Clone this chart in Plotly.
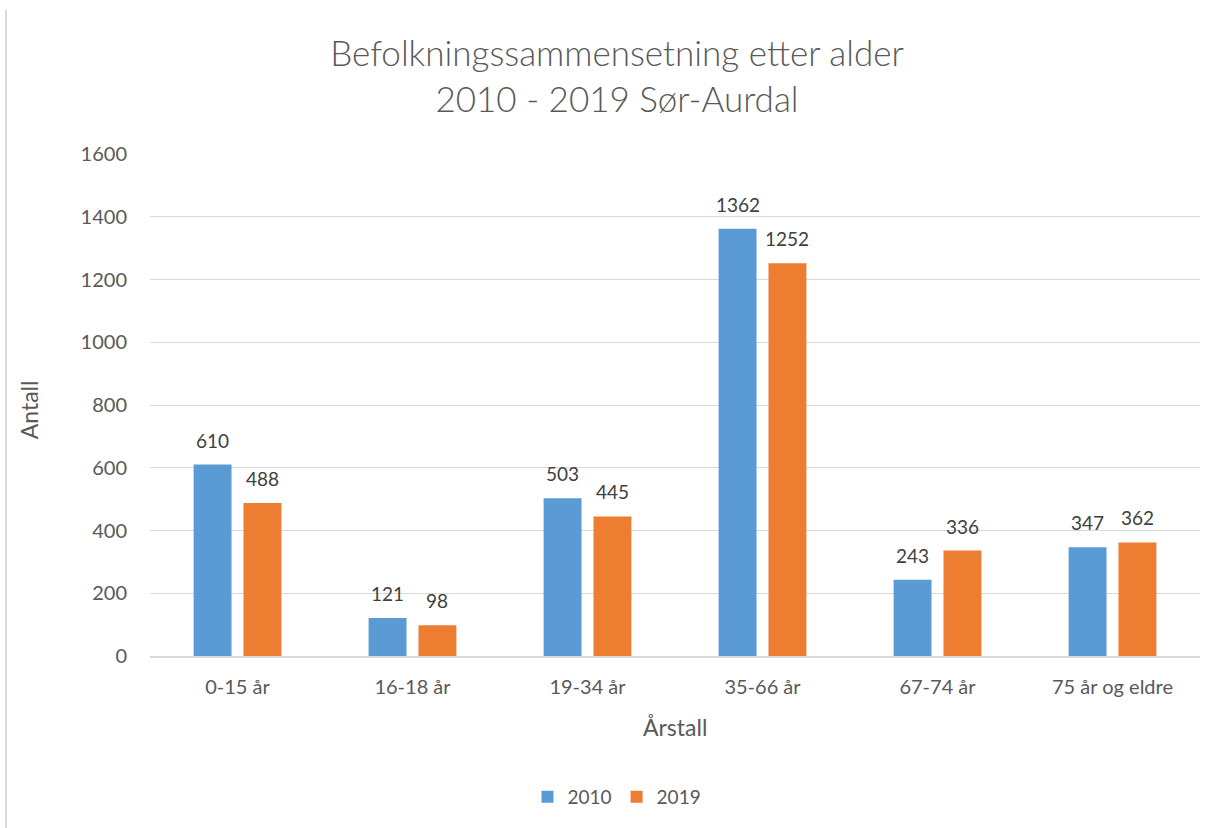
import plotly.graph_objects as go

# Age groups and population counts per year
categories = ["0-15 år", "16-18 år", "19-34 år", "35-66 år", "67-74 år", "75 år og eldre"]
values_2010 = [610, 121, 503, 1362, 243, 347]
values_2019 = [488, 98, 445, 1252, 336, 362]
series_names = ["2010", "2019"]
y_ticks = [0, 200, 400, 600, 800, 1000, 1200, 1400, 1600]

blue = "#5B9BD5"
orange = "#ED7D31"
font_family = "Lato, 'Open Sans', sans-serif"

# Bar layout within each category slot
bargap = 0.43
bar_offset = (1 - bargap) / 4  # centre of each bar relative to category centre

fig = go.Figure()
fig.add_trace(go.Bar(x=categories, y=values_2010, name=series_names[0],
                     marker=dict(color=blue, line=dict(width=0))))
fig.add_trace(go.Bar(x=categories, y=values_2019, name=series_names[1],
                     marker=dict(color=orange, line=dict(width=0))))

# Value labels above each bar
annotations = []
for vals, sign in [(values_2010, -1), (values_2019, 1)]:
    for j, v in enumerate(vals):
        annotations.append(dict(
            x=j + sign * bar_offset, y=v, xref="x", yref="y",
            text=str(v), showarrow=False, yanchor="bottom", yshift=11,
            font=dict(size=19, color="#404040", family=font_family)))

# Axis titles
annotations.append(dict(text="Årstall", x=0.5, y=-0.141, xref="paper", yref="paper",
                        showarrow=False, yanchor="middle",
                        font=dict(size=23, color="#595959", family=font_family)))
annotations.append(dict(text="Antall", x=-0.115, y=0.49, xref="paper", yref="paper",
                        showarrow=False, textangle=-90, xanchor="center", yanchor="middle",
                        font=dict(size=23, color="#595959", family=font_family)))

fig.update_layout(
    width=1219, height=828,
    margin=dict(l=150, r=19, t=154, b=172),
    paper_bgcolor="white", plot_bgcolor="white",
    barmode="group", bargap=bargap, bargroupgap=0.24,
    title=dict(text="Befolkningssammensetning etter alder<br>2010 - 2019 Sør-Aurdal",
               x=617 / 1219, xanchor="center", y=1 - 66 / 828, yanchor="middle",
               font=dict(size=35, color="#595959", family=font_family, weight=300)),
    font=dict(family=font_family, color="#595959"),
    xaxis=dict(type="category", showgrid=False, showline=True, linecolor="#d9d9d9",
               linewidth=2, ticks="", tickfont=dict(size=20, color="#595959"),
               ticklabelstandoff=12, range=[-0.5, 5.5]),
    yaxis=dict(range=[0, 1600], tickvals=y_ticks, showgrid=True, gridcolor="#d9d9d9",
               gridwidth=1, zeroline=False, showline=False, ticks="",
               tickfont=dict(size=20, color="#595959"), ticklabelstandoff=22),
    legend=dict(orientation="h", x=(617 - 150) / 1050, xanchor="center",
                y=(656 - 797) / 502, yanchor="middle",
                font=dict(size=19, color="#595959"), traceorder="normal",
                itemwidth=30),
    annotations=annotations,
    shapes=[dict(type="line", xref="paper", yref="paper",
                 x0=(6 - 150) / 1050, x1=(6 - 150) / 1050,
                 y0=(656 - 10) / 502, y1=(656 - 840) / 502,
                 line=dict(color="#d9d9d9", width=2))],
)

fig.write_html("out.html")
